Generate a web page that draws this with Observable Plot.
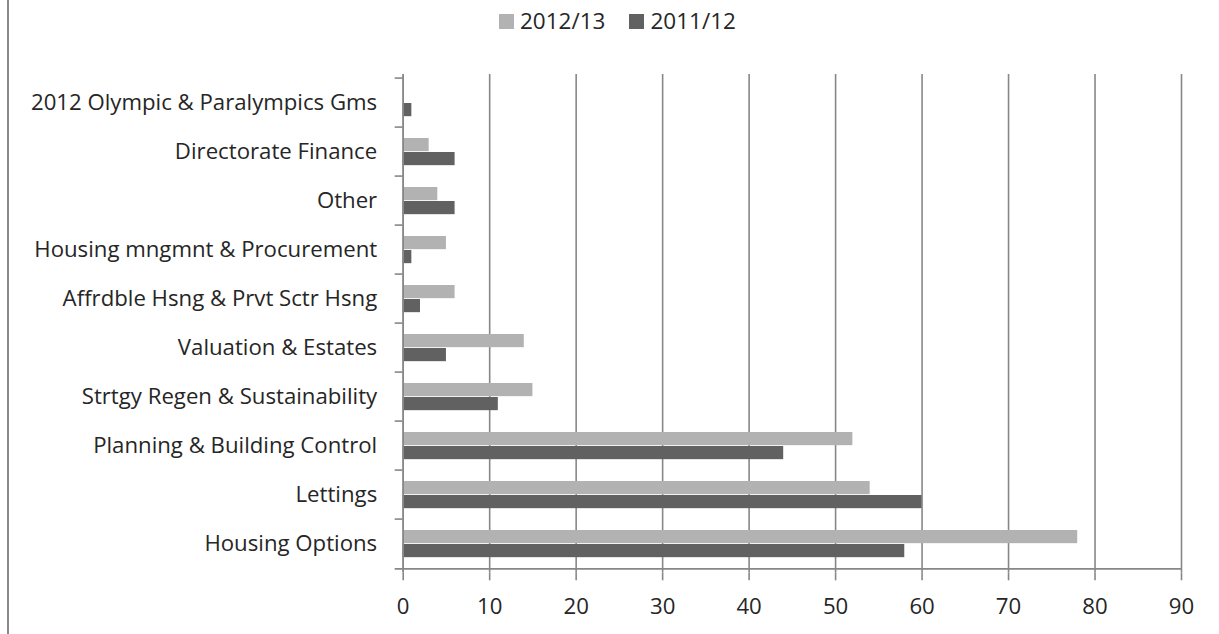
<!DOCTYPE html>
<html>
<head>
<meta charset="utf-8">
<script src="https://cdn.jsdelivr.net/npm/d3@7"></script>
<script src="https://cdn.jsdelivr.net/npm/@observablehq/plot@0.6"></script>
<style>
  html, body { margin: 0; padding: 0; background: #fff; }
  body { width: 1219px; height: 634px; position: relative; overflow: hidden; font-family: "Open Sans", sans-serif; color: #262626; }
  #border { position: absolute; left: 7px; top: 0; width: 0; height: 634px; border-left: 2px solid #8a8a8a; z-index: 5; }
  #legend { position: absolute; left: 499px; top: 0; display: flex; align-items: center; height: 43px; font-size: 22.5px; line-height: 1; }
  .item { display: flex; align-items: center; margin-right: 24px; }
  .sw { width: 15px; height: 15px; display: inline-block; margin-right: 6px; }
  #chart { position: absolute; left: 0; top: 60px; }
  svg { display: block; }
</style>
</head>
<body>
<div id="legend"></div>
<div id="chart"></div>
<div id="border"></div>
<script>
const categories = [
  "2012 Olympic & Paralympics Gms",
  "Directorate Finance",
  "Other",
  "Housing mngmnt & Procurement",
  "Affrdble Hsng & Prvt Sctr Hsng",
  "Valuation & Estates",
  "Strtgy Regen & Sustainability",
  "Planning & Building Control",
  "Lettings",
  "Housing Options"
];
const series = ["2012/13", "2011/12"];
const values2012_13 = [0, 3, 4, 5, 6, 14, 15, 52, 54, 78];
const values2011_12 = [1, 6, 6, 1, 2, 5, 11, 44, 60, 58];
const xTicks = [0, 10, 20, 30, 40, 50, 60, 70, 80, 90];
const colors = ["#b2b2b2", "#616161"];

const rows12 = categories.map((c, i) => ({category: c, value: values2012_13[i]}));
const rows11 = categories.map((c, i) => ({category: c, value: values2011_12[i]}));

// legend
const legend = document.getElementById("legend");
series.forEach((s, i) => {
  const item = document.createElement("span");
  item.className = "item";
  const sw = document.createElement("span");
  sw.className = "sw";
  sw.style.background = colors[i];
  item.appendChild(sw);
  item.appendChild(document.createTextNode(s));
  legend.appendChild(item);
});

const height = 574, marginTop = 14, marginBottom = 61.7;
const step = (height - marginTop - marginBottom) / categories.length;
const gridColor = "#878787";

const chart = Plot.plot({
  width: 1219,
  height,
  marginTop,
  marginBottom,
  marginLeft: 402.7,
  marginRight: 38,
  style: {fontFamily: "Open Sans, sans-serif", fontSize: "22.2px", color: "#262626", background: "white"},
  x: {domain: [0, 90], label: null},
  y: {domain: categories, padding: 0, label: null},
  marks: [
    Plot.gridX(xTicks, {stroke: gridColor, strokeOpacity: 1, strokeWidth: 1.6}),
    Plot.barX(rows12, {y: "category", x: "value", fill: colors[0], insetTop: 11, insetBottom: step - 25}),
    Plot.barX(rows11, {y: "category", x: "value", fill: colors[1], insetTop: 25, insetBottom: step - 39}),
    Plot.ruleX([0], {stroke: gridColor, strokeWidth: 1.6}),
    Plot.ruleY(categories, {y: d => d, dy: -step / 2, x1: d => 0, x2: d => 0, insetLeft: -8, stroke: gridColor, strokeWidth: 1.6}),
    Plot.ruleY(categories.slice(-1), {y: d => d, dy: step / 2, x1: d => 0, x2: d => 90, insetLeft: -8, stroke: gridColor, strokeWidth: 1.6}),
    Plot.axisX({ticks: xTicks, tickSize: 8, tickPadding: 17, stroke: gridColor, strokeWidth: 1.6, fill: "#262626"}),
    Plot.axisY({tickSize: 0, tickPadding: 26, fill: "#262626"})
  ]
});
document.getElementById("chart").appendChild(chart);
</script>
</body>
</html>
